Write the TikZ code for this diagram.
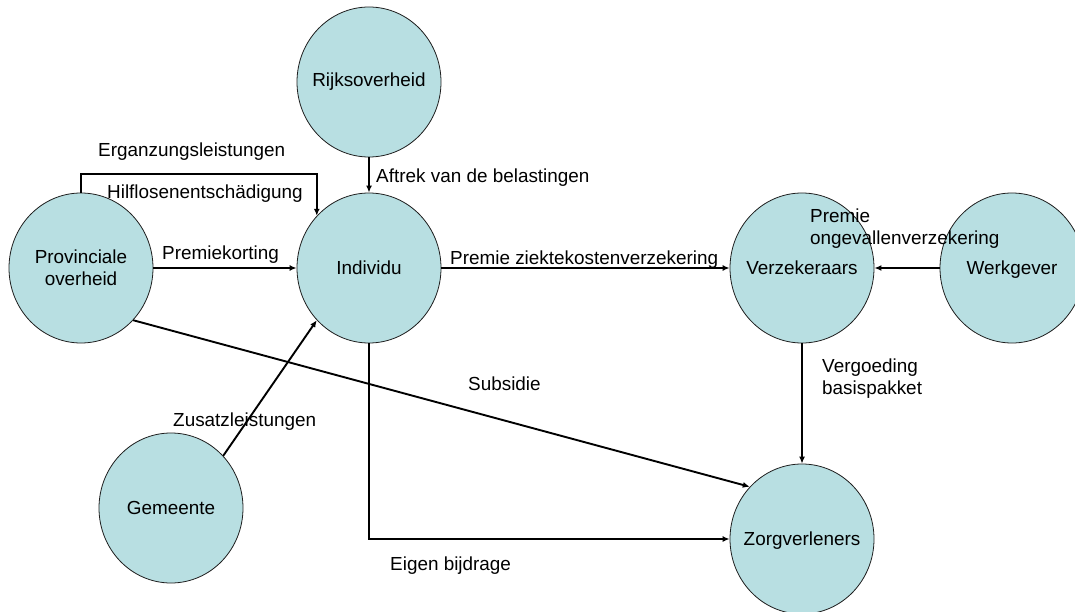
\documentclass[tikz,border=0pt]{standalone}
\usepackage{fontspec}
\setmainfont{Liberation Sans}
\usetikzlibrary{shapes.geometric,arrows.meta}
\definecolor{bubble}{RGB}{184,223,226}
\definecolor{rim}{RGB}{30,30,30}
\begin{document}
\begin{tikzpicture}[x=1pt,y=-1pt,
  txt/.style={font=\fontsize{18.9}{22}\selectfont},
  actor/.style={ellipse, draw=rim, line width=0.8pt, fill=bubble,
    minimum width=144pt, minimum height=150pt, inner sep=0pt},
  every label/.style={txt, align=center, inner sep=0pt},
  flat/.style={text depth=0pt},
  flow/.style={line width=1.9pt, -{Latex[length=7pt,width=6pt]}},
  tag/.style={txt, inner sep=0pt, anchor=base west},
  tagblock/.style={txt, inner sep=0pt, anchor=west, align=left}]
  \useasboundingbox (0,0) rectangle (1075,612);
  \clip (0,0) rectangle (1075,612);

  % actors
  \node[actor, label=center:Rijksoverheid] (rijk) at (369,82) {};
  \node[actor, label={center:{Provinciale\\overheid}}] (prov) at (81,268) {};
  \node[actor, label=center:Individu] (ind) at (369,268) {};
  \node[actor, label=center:Verzekeraars] (verz) at (802,268) {};
  \node[actor, label={[flat]center:Werkgever}] (werk) at (1012,268) {};
  \node[actor, label=center:Gemeente] (gem) at (171,508) {};
  \node[actor, label={[flat]center:Zorgverleners}] (zorg) at (802,539) {};

  % money flows
  \draw[flow] (rijk.south) -- (ind.north);
  \draw[flow] (prov.east) -- (ind.west);
  \draw[flow] (prov.north) -- ++(0,-19) -| (ind.135);
  \draw[flow] (ind.east) -- (verz.west);
  \draw[flow] (werk.west) -- (verz.east);
  \draw[flow] (verz.south) -- (zorg.north);
  \draw[flow] (gem.45) -- (ind.225);
  \draw[flow] (prov.-45) -- (zorg.135);
  \draw[flow] (ind.south) |- (zorg.west);

  % flow labels
  \node[tag] (lErg) at (98,157) {Erganzungsleistungen};
  \node[tag] (lHilf) at (107,199) {Hilflosenentschädigung};
  \node[tag] (lKort) at (162,259) {Premiekorting};
  \node[tag] (lAftrek) at (376,183) {Aftrek van de belastingen};
  \node[tag] (lZiekte) at (450,264) {Premie ziektekostenverzekering};
  \node[tagblock] (lOngev) at (810,229) {Premie\\ongevallenverzekering};
  \node[tagblock] (lVerg) at (822,379) {Vergoeding\\basispakket};
  \node[tag] (lSubs) at (468,390) {Subsidie};
  \node[tag] (lZus) at (173,426) {Zusatzleistungen};
  \node[tag] (lEigen) at (390,570) {Eigen bijdrage};
\end{tikzpicture}
\end{document}
